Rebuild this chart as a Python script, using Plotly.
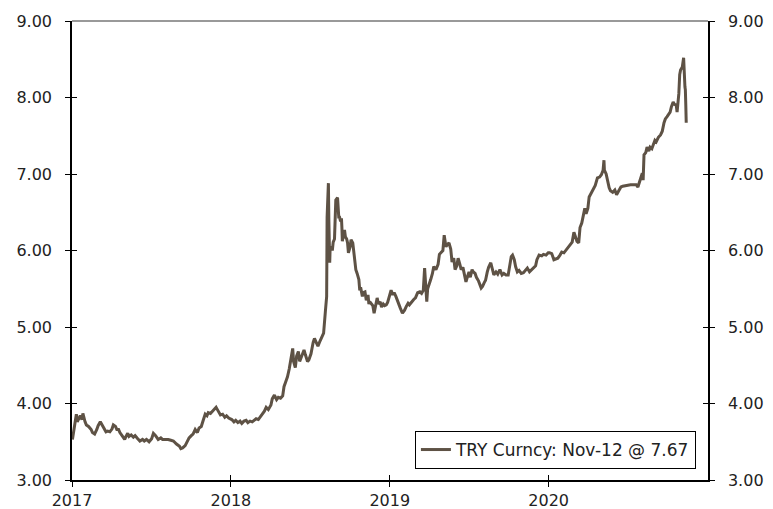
import plotly.graph_objects as go

dates = [
"2017-01-02","2017-01-04","2017-01-06","2017-01-09","2017-01-11","2017-01-13","2017-01-17","2017-01-20","2017-01-24","2017-01-26","2017-01-31",
"2017-02-03","2017-02-08","2017-02-14","2017-02-17","2017-02-22","2017-02-27","2017-03-02","2017-03-07","2017-03-10","2017-03-15","2017-03-20",
"2017-03-24","2017-03-29","2017-04-03","2017-04-06","2017-04-11","2017-04-14","2017-04-18","2017-04-21","2017-04-26","2017-05-02","2017-05-05",
"2017-05-09","2017-05-12","2017-05-17","2017-05-22","2017-05-26","2017-06-01","2017-06-06","2017-06-12","2017-06-16","2017-06-21","2017-06-27",
"2017-07-03","2017-07-07","2017-07-12","2017-07-18","2017-07-24","2017-07-28","2017-08-03","2017-08-10","2017-08-16","2017-08-22","2017-08-29",
"2017-09-05","2017-09-08","2017-09-12","2017-09-18","2017-09-22","2017-09-27","2017-10-02","2017-10-06","2017-10-11","2017-10-16","2017-10-20",
"2017-10-25","2017-10-30","2017-11-03","2017-11-07","2017-11-10","2017-11-15","2017-11-20","2017-11-24","2017-11-28","2017-12-01","2017-12-05",
"2017-12-08","2017-12-13","2017-12-18","2017-12-22","2017-12-27",
"2018-01-03","2018-01-08","2018-01-12","2018-01-17","2018-01-22","2018-01-26","2018-01-31","2018-02-05","2018-02-09","2018-02-14","2018-02-19",
"2018-02-23","2018-02-28","2018-03-05","2018-03-09","2018-03-14","2018-03-19","2018-03-23","2018-03-28","2018-04-03","2018-04-06","2018-04-11",
"2018-04-16","2018-04-20","2018-04-25","2018-04-30","2018-05-03","2018-05-08","2018-05-11","2018-05-15","2018-05-18","2018-05-23","2018-05-25",
"2018-05-29","2018-06-01","2018-06-05","2018-06-08","2018-06-13","2018-06-18","2018-06-21","2018-06-26","2018-06-29","2018-07-04","2018-07-09",
"2018-07-12","2018-07-16","2018-07-20","2018-07-25","2018-07-30","2018-08-02","2018-08-06","2018-08-08","2018-08-09","2018-08-10","2018-08-13",
"2018-08-14","2018-08-15","2018-08-16","2018-08-17","2018-08-20","2018-08-22","2018-08-24","2018-08-27","2018-08-28","2018-08-29","2018-08-30",
"2018-09-03","2018-09-04","2018-09-06","2018-09-07","2018-09-10","2018-09-12","2018-09-13","2018-09-14","2018-09-17","2018-09-19","2018-09-21",
"2018-09-24","2018-09-26","2018-09-28","2018-10-02","2018-10-04","2018-10-08","2018-10-10","2018-10-12","2018-10-15","2018-10-18","2018-10-22",
"2018-10-24","2018-10-26","2018-10-30","2018-11-01","2018-11-05","2018-11-08","2018-11-12","2018-11-14","2018-11-16","2018-11-20","2018-11-23",
"2018-11-26","2018-11-29","2018-12-03","2018-12-06","2018-12-10","2018-12-13","2018-12-17","2018-12-20","2018-12-24","2018-12-27",
"2019-01-02","2019-01-04","2019-01-08","2019-01-11","2019-01-15","2019-01-18","2019-01-22","2019-01-25","2019-01-30","2019-02-04","2019-02-08",
"2019-02-12","2019-02-15","2019-02-20","2019-02-25","2019-03-01","2019-03-06","2019-03-11","2019-03-15","2019-03-19","2019-03-22","2019-03-25",
"2019-03-27","2019-03-29","2019-04-02","2019-04-05","2019-04-09","2019-04-12","2019-04-17","2019-04-22","2019-04-25","2019-04-30","2019-05-03",
"2019-05-06","2019-05-08","2019-05-10","2019-05-14","2019-05-17","2019-05-21","2019-05-24","2019-05-28","2019-05-31","2019-06-04","2019-06-07",
"2019-06-11","2019-06-14","2019-06-18","2019-06-21","2019-06-25","2019-06-28","2019-07-02","2019-07-05","2019-07-09","2019-07-12","2019-07-16",
"2019-07-19","2019-07-24","2019-07-30","2019-08-02","2019-08-06","2019-08-09","2019-08-13","2019-08-16","2019-08-21","2019-08-23","2019-08-28",
"2019-09-02","2019-09-06","2019-09-11","2019-09-16","2019-09-20","2019-09-25","2019-09-30","2019-10-03","2019-10-07","2019-10-10","2019-10-14",
"2019-10-17","2019-10-21","2019-10-25","2019-10-30","2019-11-04","2019-11-08","2019-11-13","2019-11-18","2019-11-22","2019-11-27","2019-12-02",
"2019-12-05","2019-12-10","2019-12-16","2019-12-20","2019-12-26","2019-12-31",
"2020-01-03","2020-01-08","2020-01-13","2020-01-17","2020-01-22","2020-01-27","2020-01-31","2020-02-05","2020-02-10","2020-02-14","2020-02-19",
"2020-02-24","2020-02-28","2020-03-03","2020-03-06","2020-03-10","2020-03-13","2020-03-17","2020-03-20","2020-03-24","2020-03-27","2020-03-31",
"2020-04-03","2020-04-08","2020-04-13","2020-04-17","2020-04-22","2020-04-27","2020-05-01","2020-05-05","2020-05-07","2020-05-08","2020-05-12",
"2020-05-15","2020-05-19","2020-05-22","2020-05-27","2020-06-01","2020-06-05","2020-06-10","2020-06-15","2020-06-19","2020-06-25","2020-07-01",
"2020-07-07","2020-07-14","2020-07-20","2020-07-24","2020-07-28","2020-07-31","2020-08-03","2020-08-05","2020-08-07","2020-08-11","2020-08-14",
"2020-08-18","2020-08-21","2020-08-25","2020-08-28","2020-09-01","2020-09-04","2020-09-09","2020-09-14","2020-09-18","2020-09-22","2020-09-25",
"2020-09-29","2020-10-02","2020-10-06","2020-10-09","2020-10-13","2020-10-16","2020-10-20","2020-10-22","2020-10-26","2020-10-28","2020-10-30",
"2020-11-03","2020-11-05","2020-11-06","2020-11-09","2020-11-10","2020-11-11","2020-11-12",
]

values = [
3.53,3.60,3.70,3.79,3.86,3.76,3.80,3.84,3.79,3.87,3.76,
3.72,3.70,3.66,3.62,3.60,3.66,3.71,3.76,3.73,3.67,3.63,
3.64,3.63,3.67,3.72,3.70,3.66,3.66,3.62,3.58,3.53,3.57,
3.61,3.57,3.59,3.56,3.58,3.54,3.51,3.53,3.51,3.53,3.50,
3.54,3.61,3.58,3.53,3.55,3.53,3.53,3.53,3.52,3.51,3.47,
3.44,3.41,3.42,3.45,3.50,3.55,3.58,3.60,3.66,3.62,3.68,
3.70,3.79,3.86,3.84,3.88,3.87,3.90,3.93,3.95,3.92,3.88,
3.85,3.86,3.82,3.84,3.81,
3.79,3.76,3.78,3.75,3.77,3.74,3.77,3.78,3.75,3.77,3.76,
3.78,3.80,3.79,3.82,3.85,3.90,3.95,3.92,3.98,4.06,4.11,
4.05,4.08,4.07,4.10,4.22,4.30,4.35,4.45,4.55,4.72,4.55,
4.47,4.62,4.68,4.55,4.62,4.70,4.64,4.55,4.57,4.65,4.80,
4.85,4.80,4.75,4.82,4.88,4.92,5.20,5.32,5.40,6.43,6.88,
6.40,5.95,5.84,6.03,6.05,6.00,6.11,6.15,6.35,6.55,6.66,
6.69,6.62,6.42,6.45,6.38,6.42,6.30,6.12,6.22,6.27,6.18,
6.15,6.10,5.97,6.05,6.14,6.10,6.00,5.85,5.75,5.70,5.62,
5.48,5.52,5.40,5.45,5.46,5.35,5.42,5.30,5.33,5.30,5.28,
5.18,5.28,5.38,5.30,5.33,5.26,5.30,5.28,5.29,5.32,
5.45,5.48,5.42,5.45,5.40,5.35,5.31,5.25,5.18,5.22,5.27,
5.31,5.29,5.33,5.36,5.38,5.45,5.46,5.44,5.48,5.77,5.50,
5.33,5.50,5.59,5.62,5.70,5.79,5.75,5.82,5.95,5.98,6.00,
6.20,6.12,6.05,6.08,6.10,6.02,5.85,5.90,5.75,5.80,5.90,
5.82,5.75,5.78,5.70,5.59,5.65,5.72,5.65,5.75,5.72,5.70,
5.65,5.60,5.51,5.53,5.58,5.61,5.72,5.78,5.84,5.80,5.68,
5.72,5.69,5.75,5.68,5.70,5.68,5.68,5.80,5.92,5.94,5.88,
5.79,5.72,5.74,5.70,5.71,5.74,5.77,5.72,5.74,5.77,5.80,
5.88,5.94,5.93,5.95,5.94,5.97,
5.97,5.96,5.88,5.89,5.90,5.94,5.98,5.97,6.01,6.04,6.07,
6.11,6.24,6.15,6.12,6.10,6.30,6.36,6.45,6.55,6.48,6.55,
6.70,6.75,6.79,6.85,6.95,6.96,6.99,7.05,7.18,7.05,7.00,
6.90,6.82,6.78,6.76,6.79,6.73,6.78,6.83,6.84,6.85,6.85,
6.86,6.86,6.86,6.83,6.90,6.98,7.01,6.92,7.25,7.28,7.35,
7.30,7.35,7.33,7.38,7.44,7.42,7.48,7.51,7.56,7.67,7.72,
7.75,7.78,7.81,7.88,7.94,7.91,7.90,7.81,8.05,8.30,8.36,
8.40,8.47,8.52,8.14,8.10,7.90,7.67,
]

series_name = "TRY Curncy: Nov-12 @ 7.67"
year_ticks = ["2017-01-01", "2018-01-01", "2019-01-01", "2020-01-01"]
year_labels = ["2017", "2018", "2019", "2020"]
y_ticks = [3, 4, 5, 6, 7, 8, 9]
y_labels = ["3.00", "4.00", "5.00", "6.00", "7.00", "8.00", "9.00"]

LINE = "#5e5245"
TICKFONT = dict(family="DejaVu Sans, Verdana, sans-serif", size=16, color="#222222")
LEGFONT = dict(family="DejaVu Sans, Verdana, sans-serif", size=17, color="#222222")

fig = go.Figure()
fig.add_trace(go.Scatter(x=dates, y=values, mode="lines", name=series_name,
                         line=dict(color=LINE, width=3), hoverinfo="skip"))
# helper invisible traces to activate the extra axes
fig.add_trace(go.Scatter(x=dates[:1], y=values[:1], mode="lines", xaxis="x2", yaxis="y2",
                         showlegend=False, opacity=0, hoverinfo="skip"))
fig.add_trace(go.Scatter(x=dates[:1], y=values[:1], mode="lines", xaxis="x", yaxis="y3",
                         showlegend=False, opacity=0, hoverinfo="skip"))

xr = ["2017-01-01", "2021-01-01"]
yr = [3, 9]
common_x = dict(range=xr, type="date", tickvals=year_ticks, showgrid=False, zeroline=False,
                automargin=False)
common_y = dict(range=yr, tickvals=y_ticks, showgrid=False, zeroline=False, automargin=False)

# page body has an 8px margin, so the figure is sized and placed to compensate
fig.update_layout(
    template="none",
    width=765, height=501,
    margin=dict(l=64, r=65, t=13, b=29, autoexpand=False),
    paper_bgcolor="white", plot_bgcolor="white",
    font=TICKFONT,
    showlegend=True,
    xaxis=dict(**common_x, ticktext=year_labels, ticks="outside", ticklen=5, tickcolor="black",
               showline=True, linecolor="black", linewidth=1.5, tickfont=TICKFONT,
               ticklabelstandoff=0),
    xaxis2=dict(**common_x, overlaying="x", side="bottom", anchor="y", ticks="inside", ticklen=5,
                tickcolor="black", showticklabels=False, showline=False),
    yaxis=dict(**common_y, ticktext=y_labels, ticks="outside", ticklen=5, tickcolor="black",
               showline=True, linecolor="black", linewidth=1.5, tickfont=TICKFONT,
               ticklabelstandoff=10),
    yaxis2=dict(**common_y, ticktext=y_labels, overlaying="y", side="right", anchor="x",
                ticks="outside", ticklen=5, tickcolor="black",
                showline=True, linecolor="black", linewidth=1.5, tickfont=TICKFONT,
                ticklabelstandoff=10),
    yaxis3=dict(**common_y, overlaying="y", side="left", anchor="x", ticks="inside", ticklen=5,
                tickcolor="black", showticklabels=False, mirror="ticks", showline=False),
    legend=dict(x=0.981, y=0.024, xanchor="right", yanchor="bottom",
                bgcolor="white", bordercolor="black", borderwidth=1,
                font=LEGFONT, itemwidth=30, tracegroupgap=0),
    shapes=[dict(type="line", xref="paper", yref="paper", x0=0, x1=1, y0=1, y1=1,
                 line=dict(color="#777777", width=1.5))],
)

fig.write_html("out.html")
